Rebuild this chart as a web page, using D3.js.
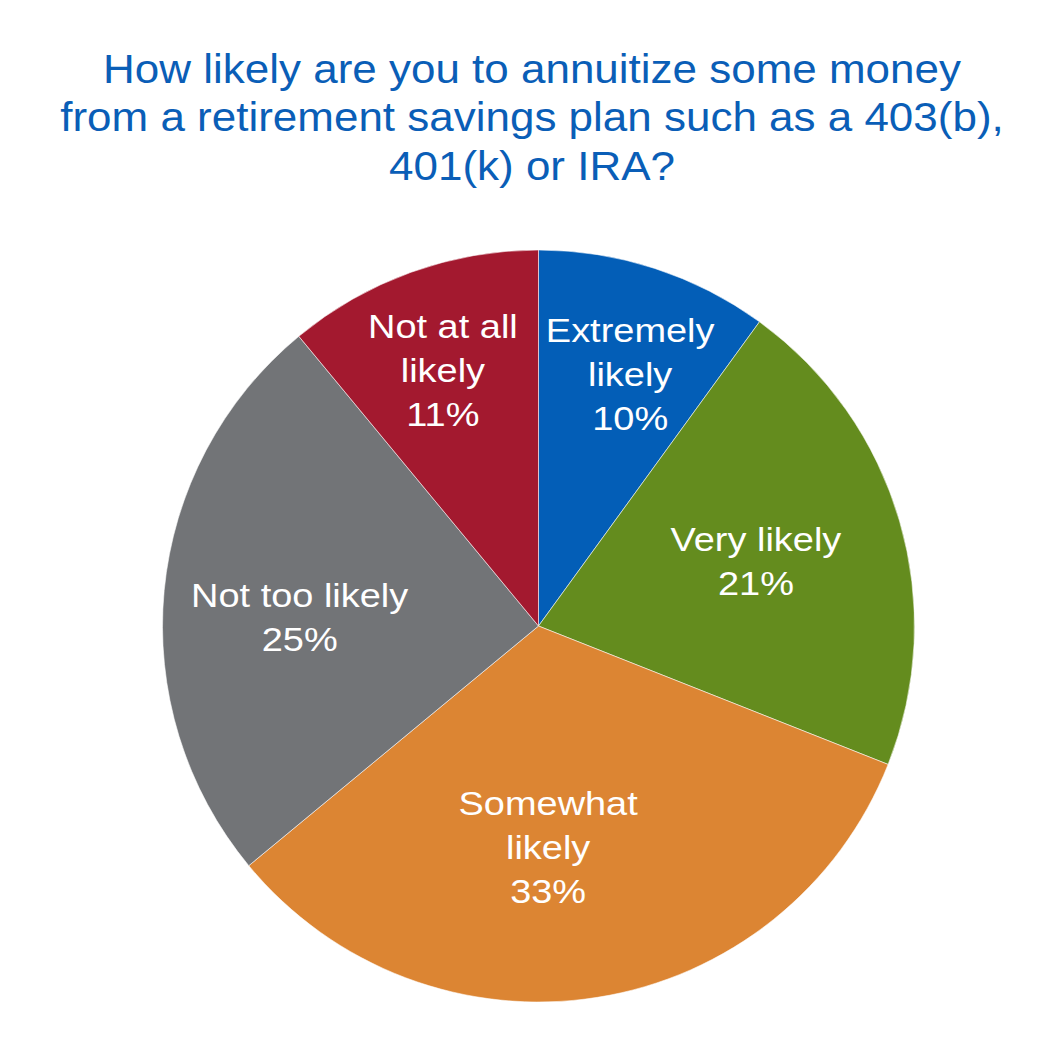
<!DOCTYPE html>
<html>
<head>
<meta charset="utf-8">
<script src="https://cdn.jsdelivr.net/npm/d3@7"></script>
<style>
  body { margin: 0; background: #fff; }
  svg { display: block; font-family: "Liberation Sans", Arial, sans-serif; }
</style>
</head>
<body>
<div id="chart"></div>
<script>
// data
var categories = ["Extremely likely", "Very likely", "Somewhat likely", "Not too likely", "Not at all likely"];
var values = [10, 21, 33, 25, 11];
// how each label breaks into lines (last line is the percent)
var labelLines = [["Extremely", "likely"], ["Very likely"], ["Somewhat", "likely"], ["Not too likely"], ["Not at all", "likely"]];
var titleLines = [
    "How likely are you to annuitize some money",
    "from a retirement savings plan such as a 403(b),",
    "401(k) or IRA?"
];

var width = 1040,
    height = 1040,
    cx = 538.5,
    cy = 626,
    radius = 376;

var colors = ["#035EB7", "#648C1E", "#DC8533", "#727477", "#A3192F"];
// label placement tweaks, roughly like the office tool places them
var labelRadius = [268, 227, 221, 239, 273];
var labelShift = [2, -0.5, 6.5, -3.3, -0.7]; // degrees

var svg = d3.select("#chart").append("svg")
    .attr("width", width)
    .attr("height", height);

// titolo (the original text is drawn a bit wider than the font)
svg.append("text")
    .attr("transform", "translate(532,0) scale(1.06,1)")
    .attr("y", 83)
    .attr("text-anchor", "middle")
    .style("font-size", "41.5px")
    .style("fill", "#0A5EB7")
    .selectAll("tspan")
    .data(titleLines)
    .enter().append("tspan")
    .attr("x", 0)
    .attr("dy", function(d, i) { return i ? 48.5 : 0; })
    .text(function(d) { return d; });

var pie = d3.pie()
    .sort(null)
    .value(function(d) { return d; });

var arcs = pie(values);

var arc = d3.arc()
    .innerRadius(0)
    .outerRadius(radius);

var g = svg.append("g")
    .attr("transform", "translate(" + cx + "," + cy + ")");

g.selectAll("path")
    .data(arcs)
    .enter().append("path")
    .attr("d", arc)
    .style("fill", function(d, i) { return colors[i]; })
    .style("stroke", "rgba(255,255,255,0.55)")
    .style("stroke-width", 1);

var fs = 33, lh = 44;

var labels = g.selectAll("text.lbl")
    .data(arcs)
    .enter().append("text")
    .attr("class", "lbl")
    .attr("text-anchor", "middle")
    .style("font-size", fs + "px")
    .style("fill", "#fff")
    .attr("transform", function(d, i) {
        var a = (d.startAngle + d.endAngle) / 2 + labelShift[i] * Math.PI / 180;
        var r = labelRadius[i];
        return "translate(" + (Math.sin(a) * r) + "," + (-Math.cos(a) * r) + ") scale(1.15,1)";
    });

labels.each(function(d, i) {
    var lines = labelLines[i].concat([d3.format(".0f")(values[i]) + "%"]);
    var top = -(lines.length - 1) * lh / 2 + fs * 0.36;
    d3.select(this).selectAll("tspan")
        .data(lines)
        .enter().append("tspan")
        .attr("x", 0)
        .attr("y", function(t, j) { return top + j * lh; })
        .text(function(t) { return t; });
});
</script>
</body>
</html>
